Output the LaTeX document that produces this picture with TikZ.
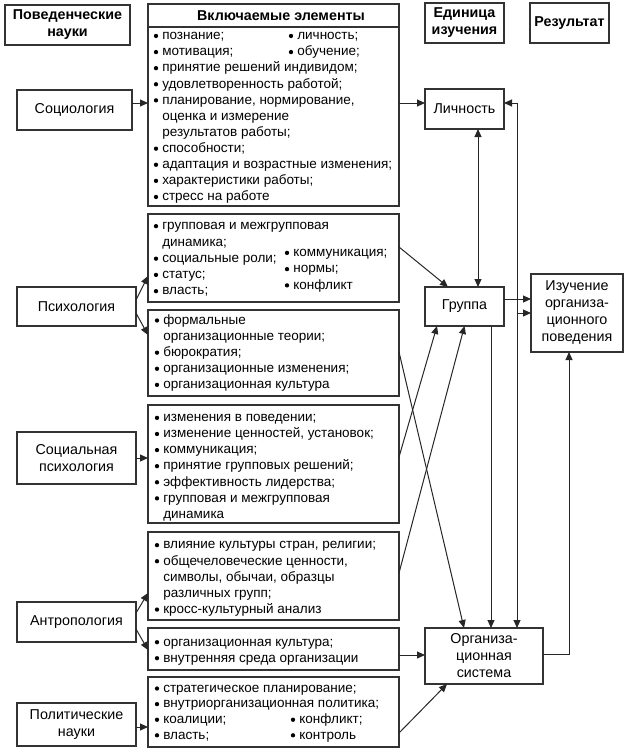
\documentclass[tikz,border=0pt]{standalone}
\usepackage{fontspec}
\setmainfont{Liberation Sans}
\usetikzlibrary{arrows.meta,calc}
\newcommand\ind{\hspace*{8.3pt}}
\newcommand\bullets[4]{\foreach \i in {#4} {\fill[black] ({#1+2},{#2+\i*#3-3.8}) circle [radius=2.15pt];}}
\begin{document}
\begin{tikzpicture}[x=1pt,y=-1pt,
  box/.style={draw=black!80, line width=1.1pt, inner sep=0pt, outer sep=0pt, align=center,
    font=\fontsize{14.3}{17.5}\selectfont},
  hdr/.style={box, font=\bfseries\fontsize{14.3}{17}\selectfont},
  lst/.style={inner sep=0pt, outer sep=0pt, anchor=north west, align=left,
    font=\fontsize{13.5}{#1}\selectfont},
  lst/.default=16.1pt,
  arr/.style={draw=black!85, line width=1pt, -{Triangle[length=8pt,width=7pt]}},
  arrtwo/.style={draw=black!85, line width=1pt, {Triangle[length=8pt,width=7pt]}-{Triangle[length=8pt,width=7pt]}}]
\useasboundingbox (0,0) rectangle (627,752);
% left column
\node[hdr, minimum width=125pt, minimum height=40pt] (hL) at (67.5,25) {Поведенческие\\науки};
\node[box, minimum width=115pt, minimum height=40pt] (soc) at (74.5,110) {Социология};
\node[box, minimum width=119pt, minimum height=39pt] (psy) at (76.5,306.5) {Психология};
\node[box, minimum width=119pt, minimum height=52pt] (sps) at (76.5,458) {Социальная\\психология};
\node[box, minimum width=119pt, minimum height=40pt] (ant) at (76.5,622) {Антропология};
\node[box, minimum width=119pt, minimum height=43pt] (pol) at (76.5,724.5) {Политические\\науки};
% middle column
\node[box, minimum width=251pt, minimum height=179pt] (b1) at (273.5,116.5) {};
\node[hdr, minimum width=251pt, minimum height=23pt] (hM) at (273.5,15.5) {\hspace*{15pt}Включаемые элементы};
\node[box, minimum width=251pt, minimum height=88pt] (b2) at (273.5,258) {};
\node[box, minimum width=251pt, minimum height=86pt] (b3) at (273.5,353) {};
\node[box, minimum width=251pt, minimum height=118pt] (b4) at (273.5,464) {};
\node[box, minimum width=251pt, minimum height=88pt] (b5) at (273.5,576) {};
\node[box, minimum width=251pt, minimum height=42pt] (b6) at (273.5,649) {};
\node[box, minimum width=251pt, minimum height=70pt] (b7) at (273.5,712) {};
% right columns
\node[hdr, minimum width=79pt, minimum height=40pt] (hU) at (464.5,23) {Единица\\изучения};
\node[hdr, minimum width=79pt, minimum height=40pt] (hR) at (569.5,23) {Результат};
\node[box, minimum width=79pt, minimum height=40pt] (lich) at (464.5,109) {Личность};
\node[box, minimum width=79pt, minimum height=39pt] (grp) at (464.5,306.5) {Группа};
\node[box, minimum width=92pt, minimum height=78pt, font=\fontsize{14.3}{17}\selectfont] (izu) at (577,313) {Изучение\\организа-\\ционного\\поведения};
\node[box, minimum width=118pt, minimum height=56pt, font=\fontsize{14.3}{17}\selectfont] (org) at (484,656) {Организа-\\ционная\\система};
% lists (text)
\node[lst] (t1) at (154,28.5) {\strut\ind познание;\\ \ind мотивация;\\ \ind принятие решений индивидом;\\
  \ind удовлетворенность работой;\\ \ind планирование, нормирование,\\ \ind оценка и измерение\\
  \ind результатов работы;\\ \ind способности;\\ \ind адаптация и возрастные изменения;\\
  \ind характеристики работы;\\ \ind стресс на работе};
\node[lst] (t1r) at (289,28.5) {\strut\ind личность;\\ \ind обучение;};
\node[lst=16.25pt] (t2) at (154,218.6) {\strut\ind групповая и межгрупповая\\ \ind динамика;\\
  \ind социальные роли;\\ \ind статус;\\ \ind власть;};
\node[lst=16.25pt] (t2r) at (285,245.3) {\strut\ind коммуникация;\\ \ind нормы;\\ \ind конфликт};
\node[lst] (t3) at (155,313) {\strut\ind формальные\\ \ind организационные теории;\\ \ind бюрократия;\\
  \ind организационные изменения;\\ \ind организационная культура};
\node[lst] (t4) at (155,410.4) {\strut\ind изменения в поведении;\\ \ind изменение ценностей, установок;\\
  \ind коммуникация;\\ \ind принятие групповых решений;\\ \ind эффективность лидерства;\\
  \ind групповая и межгрупповая\\ \ind динамика};
\node[lst] (t5) at (155,537.7) {\strut\ind влияние культуры стран, религии;\\ \ind общечеловеческие ценности,\\
  \ind символы, обычаи, образцы\\ \ind различных групп;\\ \ind кросс-культурный анализ};
\node[lst=16pt] (t6) at (155,634.8) {\strut\ind организационная культура;\\ \ind внутренняя среда организации};
\node[lst=15.6pt] (t7) at (155,681.4) {\strut\ind стратегическое планирование;\\ \ind внутриорганизационная политика;\\
  \ind коалиции;\\ \ind власть;};
\node[lst=15.6pt] (t7r) at (291,712.6) {\strut\ind конфликт;\\ \ind контроль};
% bullets
\bullets{154}{39.77}{16.1}{0,1,2,3,4,7,8,9,10}
\bullets{289}{39.77}{16.1}{0,1}
\bullets{154}{229.98}{16.25}{0,2,3,4}
\bullets{285}{256.68}{16.25}{0,1,2}
\bullets{155}{324.27}{16.1}{0,2,3,4}
\bullets{155}{421.67}{16.1}{0,1,2,3,4,5}
\bullets{155}{548.97}{16.1}{0,1,4}
\bullets{155}{646.0}{16}{0,1}
\bullets{155}{692.32}{15.6}{0,1,2,3}
\bullets{291}{723.52}{15.6}{0,1}
% connectors left
\draw[arr] ([yshift=7pt]soc.east) -- ([yshift=7pt]soc.east -| b1.west);
\draw[arr] ([yshift=6.5pt]psy.east) -- ([yshift=-18pt]b2.west);
\draw[arr] ([yshift=-6.5pt]psy.east) -- ([yshift=18pt]b3.west);
\draw[arr] (sps.east) -- (sps.east -| b4.west);
\draw[arr] ([yshift=9pt]ant.east) -- ([yshift=-17pt]b5.west);
\draw[arr] ([yshift=-7pt]ant.east) -- ([yshift=-1pt]b6.west);
\coordinate (p1) at ([yshift=-2.5pt]pol.east);
\draw[arr] (p1) -- (p1 -| b7.west);
% connectors right
\coordinate (l1) at ([yshift=6pt]lich.west);
\draw[arr] (l1 -| b1.east) -- (l1);
\coordinate (l2) at ([yshift=6pt]lich.east);
\coordinate (busT) at ([xshift=13pt]l2);
\draw[arrtwo] (l2) -- (busT) -- (busT |- org.north);
\draw[arr] (busT |- izu.west) -- (izu.west);
\coordinate (g1) at ([yshift=7.5pt]grp.east);
\draw[arr] (g1) -- (g1 -| izu.west);
\draw[arrtwo] ([xshift=13.5pt]lich.south) -- ([xshift=13.5pt]grp.north);
\coordinate (g2) at ([xshift=26.5pt]grp.south);
\draw[arr] (g2) -- (g2 |- org.north);
\draw[arr] ([yshift=2pt]org.east) -| ([xshift=-8pt]izu.south);
\draw[arr] ([yshift=11pt]b2.east) -- ([xshift=-16.5pt]grp.north);
\draw[arr] ([yshift=1pt]b3.east) -- ([xshift=-20pt]org.north);
\draw[arr] ([yshift=7pt]b4.east) -- ([xshift=-27.5pt]grp.south);
\draw[arr] ([yshift=3pt]b5.east) -- (grp.south);
\coordinate (o6) at ([yshift=-6pt]b6.east);
\draw[arr] (o6) -- (o6 -| org.west);
\draw[arr] ([yshift=-21pt]b7.east) -- ([xshift=-37pt]org.south);
\end{tikzpicture}
\end{document}
